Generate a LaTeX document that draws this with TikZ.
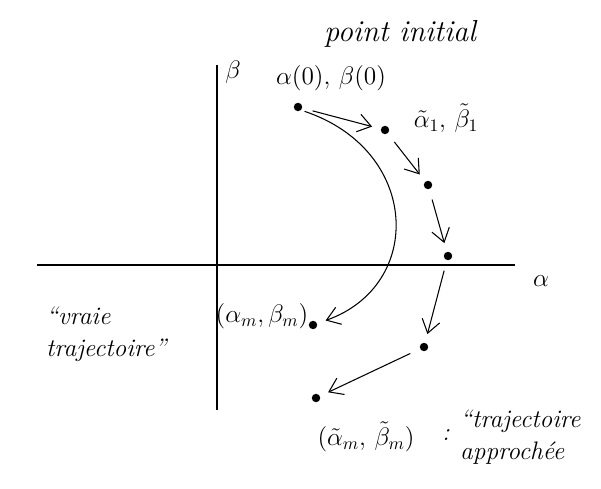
\documentclass[tikz,border=0pt]{standalone}
\usepackage{tikz}
\usetikzlibrary{arrows.meta}

\begin{document}
\begin{tikzpicture}[x=0.02cm, y=-0.02cm, font=\Large\itshape,
    dot/.style={circle, fill, inner sep=1.7pt},
    hop/.style={semithick, -{Straight Barb[length=2.6mm, width=3.6mm]}, shorten <=6pt, shorten >=5pt}]
  \useasboundingbox (0,0) rectangle (601,489);
  \coordinate (Xl) at (37,265);
  \coordinate (Xr) at (515,265);
  \coordinate (Yb) at (217,410);
  \coordinate (Yt) at (217,65);
  \draw[semithick] (Xl) -- (Xr);
  \draw[semithick] (Yb) -- (Yt);
  \node (alpha) at (541,281) {$\alpha$};
  \node (beta) at (233,72) {$\beta$};
  \node[dot] (P0) at (298,107) {};
  \node[dot] (P1) at (385,130) {};
  \node[dot] (P2) at (428,185) {};
  \node[dot] (P3) at (448,256) {};
  \node[dot] (P4) at (424,347) {};
  \node[dot] (P5) at (316,398) {};
  \node[dot] (Pm) at (313,325) {};
  \draw[hop] (P0) -- (P1);
  \draw[hop] (P1) -- (P2);
  \draw[hop] (P2) -- (P3);
  \draw[hop] (P3) -- (P4);
  \draw[hop] (P4) -- (P5);
  \draw[hop, shorten <=2pt] (P0.south east) .. controls (420,150) and (425,285) .. (Pm);
  \node[font=\LARGE\itshape] (start) at (400,34) {point initial};
  \node (p0lab) at (331,78) {$\alpha(0),\,\beta(0)$};
  \node (p1lab) at (446,118) {$\tilde\alpha_1,\,\tilde\beta_1$};
  \node (pmlab) at (262,316) {$(\alpha_m,\beta_m)$};
  \node[align=left, anchor=west] (vraie) at (40,334) {``vraie\\trajectoire''};
  \node (p5lab) at (366,437) {$(\tilde\alpha_m,\,\tilde\beta_m)$};
  \node (colon) at (446,435) {:};
  \node[align=left, anchor=west] (appr) at (454,437) {``trajectoire\\approch\'ee};
\end{tikzpicture}
\end{document}
